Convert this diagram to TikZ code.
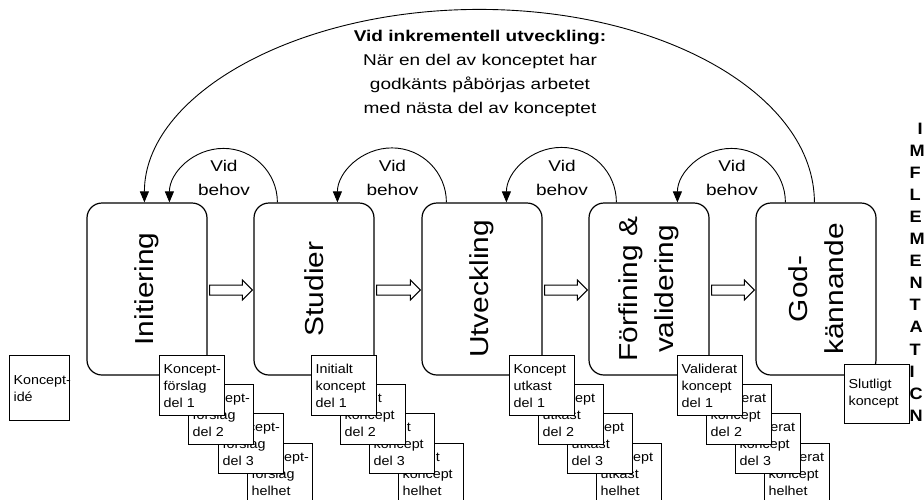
\documentclass[tikz,border=0pt]{standalone}
\usepackage{fontspec}
\setmainfont{Liberation Sans}
\newfontfamily\topfont{Liberation Sans}[FakeStretch=1.22]
\newfontfamily\docfont{Liberation Sans}[FakeStretch=1.1]
\newfontfamily\stagefont{Liberation Sans}[FakeStretch=1.15]
\newfontfamily\sidefont{Liberation Sans}[FakeStretch=1.1]
\newcommand{\khy}{\mbox{Koncept-}}
\usetikzlibrary{arrows.meta,calc}
\begin{document}
\begin{tikzpicture}[x=1pt,y=-1pt,line width=1.2pt,
  stagebox/.style={draw, fill=white, rounded corners=15pt, minimum width=120pt, minimum height=172pt, inner sep=0pt},
  stagetext/.style={rotate=90, align=center, inner sep=0pt, font=\stagefont\fontsize{26}{36.5}\selectfont},
  docbox/.style={draw, fill=white, anchor=north west, minimum height=60pt, text width=57pt, inner sep=4pt, align=left, font=\docfont\fontsize{13}{17}\selectfont},
  hollowarrow/.style={draw, fill=white, line width=1pt},
  arcarrow/.style={line width=0.9pt, -{Triangle[length=11pt,width=9pt]}},
  behov/.style={anchor=north, align=center, inner sep=0pt, font=\topfont\fontsize{15.6}{24}\selectfont},
  sideletter/.style={anchor=base west, inner sep=0pt, font=\sidefont\bfseries\fontsize{16.5}{16.5}\selectfont}
]
\useasboundingbox (0,0) rectangle (924,499);

% stages
\node[stagebox] (s1) at (147,289) {};
\node[stagebox] (s2) at (314,289) {};
\node[stagebox] (s3) at (482,289) {};
\node[stagebox] (s4) at (649,289) {};
\node[stagebox] (s5) at (816,289) {};
\node[stagetext] (t1) at (s1) {Initiering};
\node[stagetext] (t2) at (s2) {Studier};
\node[stagetext] (t3) at (s3) {Utveckling};
\node[stagetext] (t4) at (s4) {Förfining \&\\validering};
\node[stagetext] (t5) at (s5) {God-\\kännande};

% hollow arrows between stages
\foreach \a/\b in {s1/s2, s2/s3, s3/s4, s4/s5}{
  \draw[hollowarrow] ($(\a.east)+(2,-4)$) -- ($(\b.west)+(-11,-4)$) -- ($(\b.west)+(-11,-9)$)
    -- ($(\b.west)+(-1,1)$) -- ($(\b.west)+(-11,11)$) -- ($(\b.west)+(-11,6)$)
    -- ($(\a.east)+(2,6)$) -- cycle;
}

% "vid behov" loops
\draw[arcarrow] ([xshift=24pt]s2.north west) arc[start angle=0, end angle=180, radius=54pt];
\draw[arcarrow] ([xshift=25pt]s3.north west) arc[start angle=0, end angle=180, radius=54.5pt];
\draw[arcarrow] ([xshift=28pt]s4.north west) arc[start angle=0, end angle=180, radius=55pt];
\draw[arcarrow] ([xshift=30pt]s5.north west) arc[start angle=0, end angle=180, radius=54pt];
\node[behov] (v1) at (224,159.6) {Vid\\behov};
\node[behov] (v2) at (392.5,159.6) {Vid\\behov};
\node[behov] (v3) at (562,159.6) {Vid\\behov};
\node[behov] (v4) at (732,159.6) {Vid\\behov};

% big loop
\draw[arcarrow] ([xshift=59pt]s5.north west) arc[start angle=0, end angle=180, x radius=335pt, y radius=193pt];
\node[behov] (ttl) at (480,30) {\textbf{Vid inkrementell utveckling:}\\När en del av konceptet har\\godkänts påbörjas arbetet\\med nästa del av konceptet};

% document stacks
\foreach \x/\y/\t in {247/443/\khy\\förslag\\helhet, 218/413/\khy\\förslag\\del 3, 188/384/\khy\\förslag\\del 2, 159/355/\khy\\förslag\\del 1}{
  \node[docbox] (d1-\y) at (\x,\y) {\t};
}
\foreach \x/\y/\t in {398/443/Initialt\\koncept\\helhet, 369/413/Initialt\\koncept\\del 3, 340/384/Initialt\\koncept\\del 2, 311/355/Initialt\\koncept\\del 1}{
  \node[docbox] (d2-\y) at (\x,\y) {\t};
}
\foreach \x/\y/\t in {596/443/Koncept\\utkast\\helhet, 567/413/Koncept\\utkast\\del 3, 538/384/Koncept\\utkast\\del 2, 509/355/Koncept\\utkast\\del 1}{
  \node[docbox] (d3-\y) at (\x,\y) {\t};
}
\foreach \x/\y/\t in {764/443/Validerat\\koncept\\helhet, 735/413/Validerat\\koncept\\del 3, 706/384/Validerat\\koncept\\del 2, 677/355/Validerat\\koncept\\del 1}{
  \node[docbox] (d4-\y) at (\x,\y) {\t};
}
\node[docbox, minimum height=65pt, text width=52pt] (idea) at (9,355) {\khy\\idé};
\node[docbox, minimum height=59pt] (final) at (844,364) {Slutligt\\koncept};

% cut-off column at right edge
\node[sideletter] (r1) at (917,134) {I};
\foreach \l [count=\i from 2] in {M,F,L,E,M,E,N,T,A,T,I,C,N}{
  \node[sideletter] (r\i) at (909,{134+22.1*(\i-1)}) {\l};
}
\end{tikzpicture}
\end{document}
